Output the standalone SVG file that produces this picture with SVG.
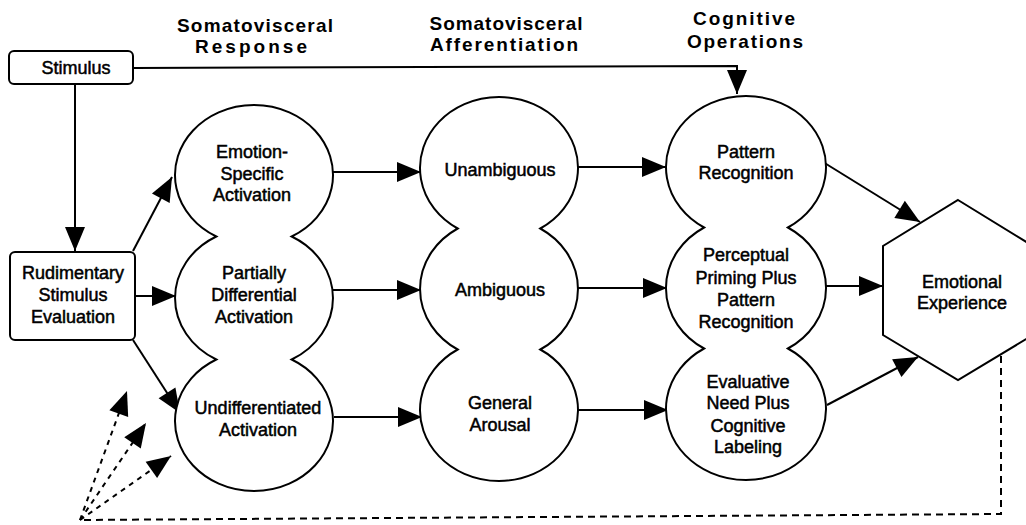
<svg xmlns="http://www.w3.org/2000/svg" width="1026" height="525" viewBox="0 0 1026 525">
<style>
.t{font-family:"Liberation Sans",Arial,sans-serif;font-size:18px;fill:#000;text-anchor:middle;stroke:#000;stroke-width:0.5}
.h{font-family:"Liberation Sans",Arial,sans-serif;font-size:19px;font-weight:bold;fill:#000;text-anchor:middle}
.shape{fill:#fff;stroke:#000;stroke-width:2}
.ar{fill:none;stroke:#000;stroke-width:2;marker-end:url(#ah)}
.da{fill:none;stroke:#000;stroke-width:2;stroke-dasharray:5 5;marker-end:url(#ah)}
.dl{fill:none;stroke:#000;stroke-width:2;stroke-dasharray:7 5}
</style>
<defs>
<marker id="ah" markerUnits="userSpaceOnUse" markerWidth="26" markerHeight="22" refX="24" refY="10" orient="auto" overflow="visible">
<path d="M0,0 L24,10 L0,20 Z" fill="#000" stroke="none"/>
</marker>
</defs>
<rect width="1026" height="525" fill="#fff"/>

<g id="titles">
<text class="h" x="255" y="32" textLength="156" lengthAdjust="spacing">Somatovisceral</text>
<text class="h" x="251" y="53" textLength="112" lengthAdjust="spacing">Response</text>
<text class="h" x="506" y="30" textLength="153" lengthAdjust="spacing">Somatovisceral</text>
<text class="h" x="504" y="51" textLength="148" lengthAdjust="spacing">Afferentiation</text>
<text class="h" x="744" y="25" textLength="102" lengthAdjust="spacing">Cognitive</text>
<text class="h" x="745" y="48" textLength="116" lengthAdjust="spacing">Operations</text>
</g>

<g id="connectors">
<path class="ar" d="M134,68 L737,66 L737,94"/>
<path class="ar" d="M75,84 L75,251"/>
<path class="ar" d="M133,251 L172,177"/>
<path class="ar" d="M135,296 L176,296"/>
<path class="ar" d="M133,340 L180,413"/>
<path class="ar" d="M333,172 L421,172"/>
<path class="ar" d="M333,290 L421,290"/>
<path class="ar" d="M334,417 L422,417"/>
<path class="ar" d="M578,167 L666,167"/>
<path class="ar" d="M578,288 L667,288"/>
<path class="ar" d="M579,410 L668,410"/>
<path class="ar" d="M823,162 L920,222"/>
<path class="ar" d="M826,286 L883,286"/>
<path class="ar" d="M827,405 L918,357"/>
<path class="dl" d="M1001,356 L1001,514 L80,520"/>
<path class="da" d="M80,520 L127,391"/>
<path class="da" d="M80,520 L146,423"/>
<path class="da" d="M80,520 L171,456"/>
</g>

<g id="stimulus">
<rect class="shape" x="9" y="51" width="124" height="33" rx="5"/>
<text class="t" x="76" y="74">Stimulus</text>
</g>

<g id="rudimentary">
<rect class="shape" x="10" y="252" width="125" height="88" rx="5"/>
<text class="t" x="73" y="279">Rudimentary</text>
<text class="t" x="73" y="301">Stimulus</text>
<text class="t" x="73" y="323">Evaluation</text>
</g>

<g id="response">
<path class="shape" d="M216.3,236.5 A79,70 0 1 1 291.7,236.5 A79,70 0 0 1 291.7,359.5 A79,70 0 1 1 216.3,359.5 A79,70 0 0 1 216.3,236.5 Z"/>
<text class="t" x="252" y="158">Emotion-</text>
<text class="t" x="252" y="180">Specific</text>
<text class="t" x="252" y="201">Activation</text>
<text class="t" x="254" y="279">Partially</text>
<text class="t" x="254" y="301">Differential</text>
<text class="t" x="254" y="323">Activation</text>
<text class="t" x="258" y="414">Undifferentiated</text>
<text class="t" x="258" y="436">Activation</text>
</g>

<g id="afferentiation">
<path class="shape" d="M457.7,228.5 A79,71 0 1 1 540.3,228.5 A79,71 0 0 1 540.3,349.5 A79,71 0 1 1 457.7,349.5 A79,71 0 0 1 457.7,228.5 Z"/>
<text class="t" x="500" y="176">Unambiguous</text>
<text class="t" x="500" y="296">Ambiguous</text>
<text class="t" x="500" y="409">General</text>
<text class="t" x="500" y="431">Arousal</text>
</g>

<g id="cognitive">
<path class="shape" d="M704.1,227.5 A80,71 0 1 1 787.9,227.5 A80,71 0 0 1 787.9,348.5 A80,71 0 1 1 704.1,348.5 A80,71 0 0 1 704.1,227.5 Z"/>
<text class="t" x="746" y="158">Pattern</text>
<text class="t" x="746" y="179">Recognition</text>
<text class="t" x="746" y="261">Perceptual</text>
<text class="t" x="746" y="284">Priming Plus</text>
<text class="t" x="746" y="306">Pattern</text>
<text class="t" x="746" y="328">Recognition</text>
<text class="t" x="748" y="388">Evaluative</text>
<text class="t" x="748" y="409">Need Plus</text>
<text class="t" x="748" y="432">Cognitive</text>
<text class="t" x="748" y="453">Labeling</text>
</g>

<g id="emotional-experience">
<polygon class="shape" points="958,200 1033,246 1033,335 958,380 883,335 883,246"/>
<text class="t" x="962" y="288">Emotional</text>
<text class="t" x="962" y="309">Experience</text>
</g>
</svg>
